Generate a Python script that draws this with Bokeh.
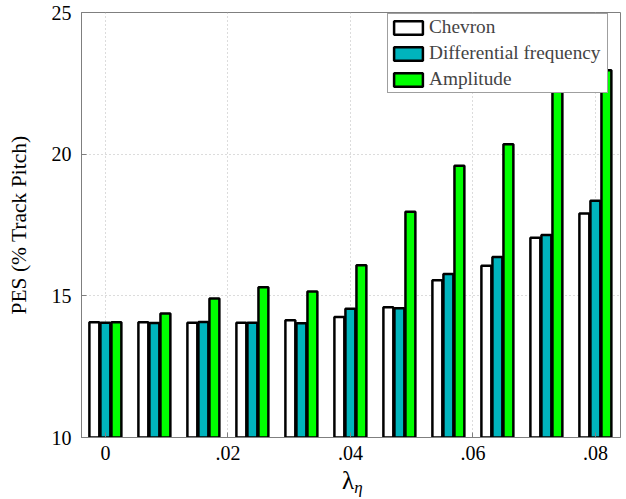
from bokeh.plotting import figure
from bokeh.models import FixedTicker, Legend, LegendItem, ColumnDataSource, Div
from bokeh.layouts import column
from bokeh.embed import file_html
from bokeh.resources import INLINE

# ---- data ----
lam = [0.0, 0.008, 0.016, 0.024, 0.032, 0.040, 0.048, 0.056, 0.064, 0.072, 0.080]
chevron = [14.07, 14.07, 14.05, 14.05, 14.14, 14.25, 14.60, 15.55, 16.06, 17.05, 17.91]
diff_freq = [14.05, 14.04, 14.08, 14.05, 14.03, 14.54, 14.56, 15.77, 16.37, 17.15, 18.36]
amplitude = [14.07, 14.38, 14.91, 15.30, 15.15, 16.08, 17.97, 19.59, 20.35, 22.8, 22.96]
series_names = ["Chevron", "Differential frequency", "Amplitude"]
series_colors = ["#ffffff", "#00b4bd", "#00ff00"]
xtick_values = [0, 0.02, 0.04, 0.06, 0.08]
xtick_labels = ["0", ".02", ".04", ".06", ".08"]
ytick_values = [10, 15, 20, 25]
y_label = "PES (% Track Pitch)"

FONT = "Liberation Serif"

p = figure(frame_width=539, frame_height=425, x_range=(-0.0039, 0.0841), y_range=(10, 25),
           output_backend="svg", toolbar_location=None,
           min_border_left=81, min_border_right=6, min_border_top=12, min_border_bottom=33,
           background_fill_color="white", border_fill_color="white")

bw = 0.0018
offsets = [-bw, 0.0, bw]
renderers = []
for vals, off, col in zip([chevron, diff_freq, amplitude], offsets, series_colors):
    src = ColumnDataSource(dict(x=[v + off for v in lam], top=vals, bottom=[10] * len(vals)))
    r = p.vbar(x="x", top="top", bottom="bottom", width=bw * 0.9, source=src,
               fill_color=col, line_color="black", line_width=2.5)
    renderers.append(r)

for ax in p.xaxis + p.yaxis:
    ax.major_tick_in = 5
    ax.major_tick_out = 0
    ax.minor_tick_line_color = None
    ax.axis_line_color = "#7f7f7f"
    ax.major_tick_line_color = "#7f7f7f"
    ax.major_label_text_font = FONT
    ax.major_label_text_font_size = "20px"
    ax.major_label_text_color = "black"
    ax.axis_label_text_font = FONT
    ax.axis_label_text_font_style = "normal"
    ax.axis_label_text_color = "black"

p.xaxis.ticker = FixedTicker(ticks=xtick_values)
p.yaxis.ticker = FixedTicker(ticks=ytick_values)
p.xaxis.major_label_overrides = {v: l for v, l in zip(xtick_values, xtick_labels)}
p.xaxis.major_label_standoff = 8
p.yaxis.major_label_standoff = 10
p.yaxis.axis_label = y_label
p.yaxis.axis_label_text_font_size = "21.5px"
p.yaxis.axis_label_standoff = 18

# grid
p.xgrid.ticker = FixedTicker(ticks=xtick_values)
p.ygrid.ticker = FixedTicker(ticks=ytick_values)
for g in (p.xgrid, p.ygrid):
    g.grid_line_color = "#b8b8b8"
    g.grid_line_dash = "1 3"
    g.grid_line_width = 1

p.outline_line_color = "#7f7f7f"
p.outline_line_width = 1

legend = Legend(items=[LegendItem(label=n, renderers=[r]) for n, r in zip(series_names, renderers)],
                location=(306, 344), orientation="vertical",
                label_text_font=FONT, label_text_font_size="19.3px",
                glyph_width=36, glyph_height=17, label_height=20, label_width=176, label_standoff=3,
                spacing=4, padding=2, margin=0,
                border_line_color="#404040", border_line_width=1,
                background_fill_color="white", background_fill_alpha=1.0)
p.add_layout(legend, "center")

xlabel = Div(text='<span style="font-size:25px">λ</span>'
                  '<span style="font-size:17px; font-style:italic; position:relative; top:4px">η</span>',
             width=60, height=29, margin=(0, 0, 0, 342),
             styles={"font-family": FONT, "color": "black", "line-height": "21px", "overflow": "visible"})

layout = column(p, xlabel, spacing=0, margin=0)
open("out.html", "w").write(file_html(layout, INLINE))
